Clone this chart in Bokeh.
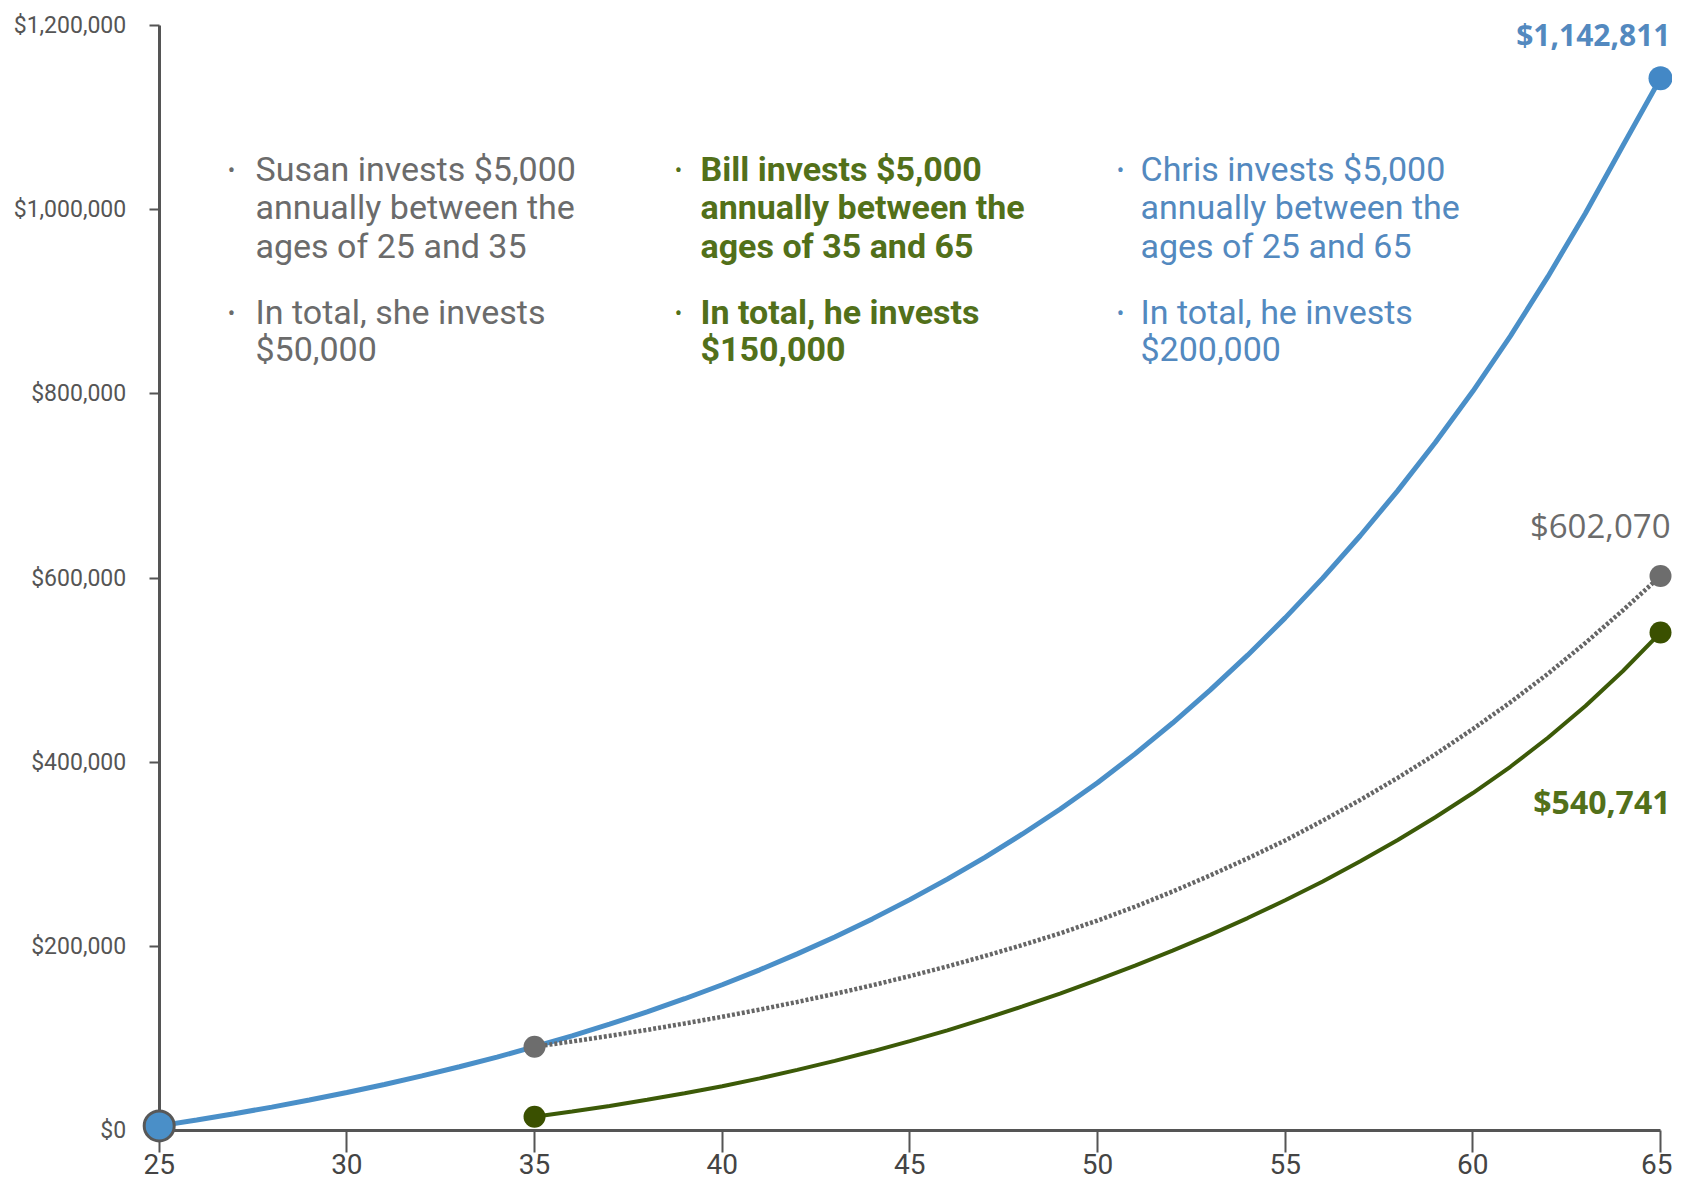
from bokeh.plotting import figure
from bokeh.models import Range1d, FixedTicker, NumeralTickFormatter, Label
from bokeh.embed import file_html
from bokeh.resources import INLINE

# ---------------- data ----------------
ages_chris = list(range(25, 66))
chris = [5000, 11400, 18200, 25400, 33100, 41300, 50000, 59300, 69200, 79700,
         91000, 102800, 115400, 128800, 143100, 158300, 174500, 191800, 210200, 229800,
         250700, 273000, 296700, 322000, 348900, 377600, 409000, 442500, 478200, 516200,
         556700, 599900, 645900, 694900, 747100, 802700, 862700, 927200, 996200, 1069700,
         1142811]

ages_late = list(range(35, 66))
susan = [91000, 96700, 102800, 109300, 116200, 123500, 131300, 139600, 148400, 157700,
         167700, 178200, 189500, 201400, 214100, 228000, 243000, 259500, 277000, 295500,
         315000, 336500, 359000, 383000, 408500, 436000, 465000, 496000, 529500, 565000,
         602070]
bill = [15000, 20600, 26700, 33300, 40400, 48000, 56600, 65800, 75600, 86000,
        97000, 108800, 121400, 134700, 148700, 163500, 179000, 195300, 212500, 230700,
        250000, 270500, 292300, 315500, 340200, 366500, 395000, 426500, 461000, 499000,
        540741]

x_ticks = [25, 30, 35, 40, 45, 50, 55, 60, 65]
y_ticks = [0, 200000, 400000, 600000, 800000, 1000000, 1200000]

susan_text = [["Susan invests $5,000", "annually between the", "ages of 25 and 35"],
              ["In total, she invests", "$50,000"]]
bill_text = [["Bill invests $5,000", "annually between the", "ages of 35 and 65"],
             ["In total, he invests", "$150,000"]]
chris_text = [["Chris invests $5,000", "annually between the", "ages of 25 and 65"],
              ["In total, he invests", "$200,000"]]

# ---------------- styles ----------------
BLUE = "#4a8fc8"
BLUE_TXT = "#5389bf"
GRAY = "#666666"
GRAY_TXT = "#6b6b6b"
GREEN = "#3c5a08"
GREEN_DOT = "#3a5000"
GREEN_TXT = "#52701a"
AXIS = "#555555"
FONT = "Roboto"
VALUE_FONT = "Open Sans"

W, H = 1672, 1186
# pixel anchors of the axes (x=25 / x=65, y=0 / y=1.2M)
PX25, PX65 = 158.7, 1660.0
PY0, PY12 = 1130.0, 25.0
xs = (PX65 - PX25) / 40.0
ys = (PY0 - PY12) / 1200000.0
X0, X1 = 25 - PX25 / xs, 65 + (W - PX65) / xs
Y0, Y1 = -(H - PY0) / ys, 1200000 + PY12 / ys


def dx(sx):
    return X0 + sx / xs


def dy(sy):
    return Y1 - sy / ys


p = figure(width=W, height=H, title=None,
           x_range=Range1d(X0, X1), y_range=Range1d(Y0, Y1),
           output_backend="svg", toolbar_location=None,
           min_border_left=0, min_border_right=0,
           min_border_top=0, min_border_bottom=0)
p.outline_line_color = None
p.xgrid.visible = False
p.ygrid.visible = False
p.background_fill_color = "white"
p.border_fill_color = "white"

# axes
xa = p.xaxis[0]
xa.fixed_location = 0
xa.bounds = (25, 65)
xa.ticker = FixedTicker(ticks=x_ticks)
xa.minor_tick_line_color = None
xa.major_tick_out = 22
xa.major_tick_in = 0
xa.major_tick_line_color = AXIS
xa.major_tick_line_width = 2
xa.axis_line_color = AXIS
xa.axis_line_width = 3
xa.major_label_standoff = 1
xa.major_label_text_font = FONT
xa.major_label_text_font_size = "28px"
xa.major_label_text_color = "#444444"
xa.level = "underlay"

ya = p.yaxis[0]
ya.fixed_location = 25
ya.bounds = (0, 1200000)
ya.ticker = FixedTicker(ticks=y_ticks)
ya.formatter = NumeralTickFormatter(format="$0,0")
ya.minor_tick_line_color = None
ya.major_tick_out = 10
ya.major_tick_in = 0
ya.major_tick_line_color = AXIS
ya.major_tick_line_width = 2
ya.axis_line_color = AXIS
ya.axis_line_width = 3
ya.major_label_standoff = 23
ya.major_label_text_font = FONT
ya.major_label_text_font_size = "23px"
ya.major_label_text_color = "#555555"
ya.level = "underlay"

# lines
p.line(ages_chris, chris, line_color=BLUE, line_width=5)
p.line(ages_late, susan, line_color=GRAY, line_width=4.5, line_dash="3 2")
p.line(ages_late, bill, line_color=GREEN, line_width=4)

# end-point dots
p.scatter([ages_late[0], ages_late[-1]], [susan[0], susan[-1]], size=22,
          fill_color="#6d6d6d", line_color=None)
p.scatter([ages_late[0], ages_late[-1]], [bill[0], bill[-1]], size=22,
          fill_color=GREEN_DOT, line_color=None)
p.scatter([ages_chris[-1]], [chris[-1]], size=24, fill_color="#4388c6", line_color=None)
p.scatter([ages_chris[0]], [chris[0]], size=30, fill_color=BLUE,
          line_color="#585858", line_width=3)

# bullet text blocks (screen centres of each line)
first_rows = [168, 206, 245]
second_rows = [311, 348]
bullet_rows = [170, 313]
columns = [
    (susan_text, 231, 255, GRAY_TXT, "normal"),
    (bill_text, 678, 700, GREEN_TXT, "bold"),
    (chris_text, 1120, 1140, BLUE_TXT, "normal"),
]
for blocks, bx, tx, col, style in columns:
    for block, rows, brow in zip(blocks, [first_rows, second_rows], bullet_rows):
        p.add_layout(Label(x=dx(bx), y=dy(brow), text="\u2022",
                           text_align="center", text_baseline="middle",
                           text_font=FONT, text_font_size="22px",
                           text_color=col))
        for line, r in zip(block, rows):
            p.add_layout(Label(x=dx(tx), y=dy(r), text=line,
                               text_align="left", text_baseline="middle",
                               text_font=FONT, text_font_size="34px",
                               text_font_style=style, text_color=col))

# end values
end_labels = [
    (f"${chris[-1]:,}", 34, BLUE_TXT, "bold", "30px"),
    (f"${susan[-1]:,}", 525, GRAY_TXT, "normal", "33px"),
    (f"${bill[-1]:,}", 801, GREEN_TXT, "bold", "32px"),
]
for txt, row, col, style, size in end_labels:
    p.add_layout(Label(x=dx(1670), y=dy(row), text=txt,
                       text_align="right", text_baseline="middle",
                       text_font=VALUE_FONT, text_font_size=size,
                       text_font_style=style, text_color=col))

open("out.html", "w").write(file_html(p, INLINE))
